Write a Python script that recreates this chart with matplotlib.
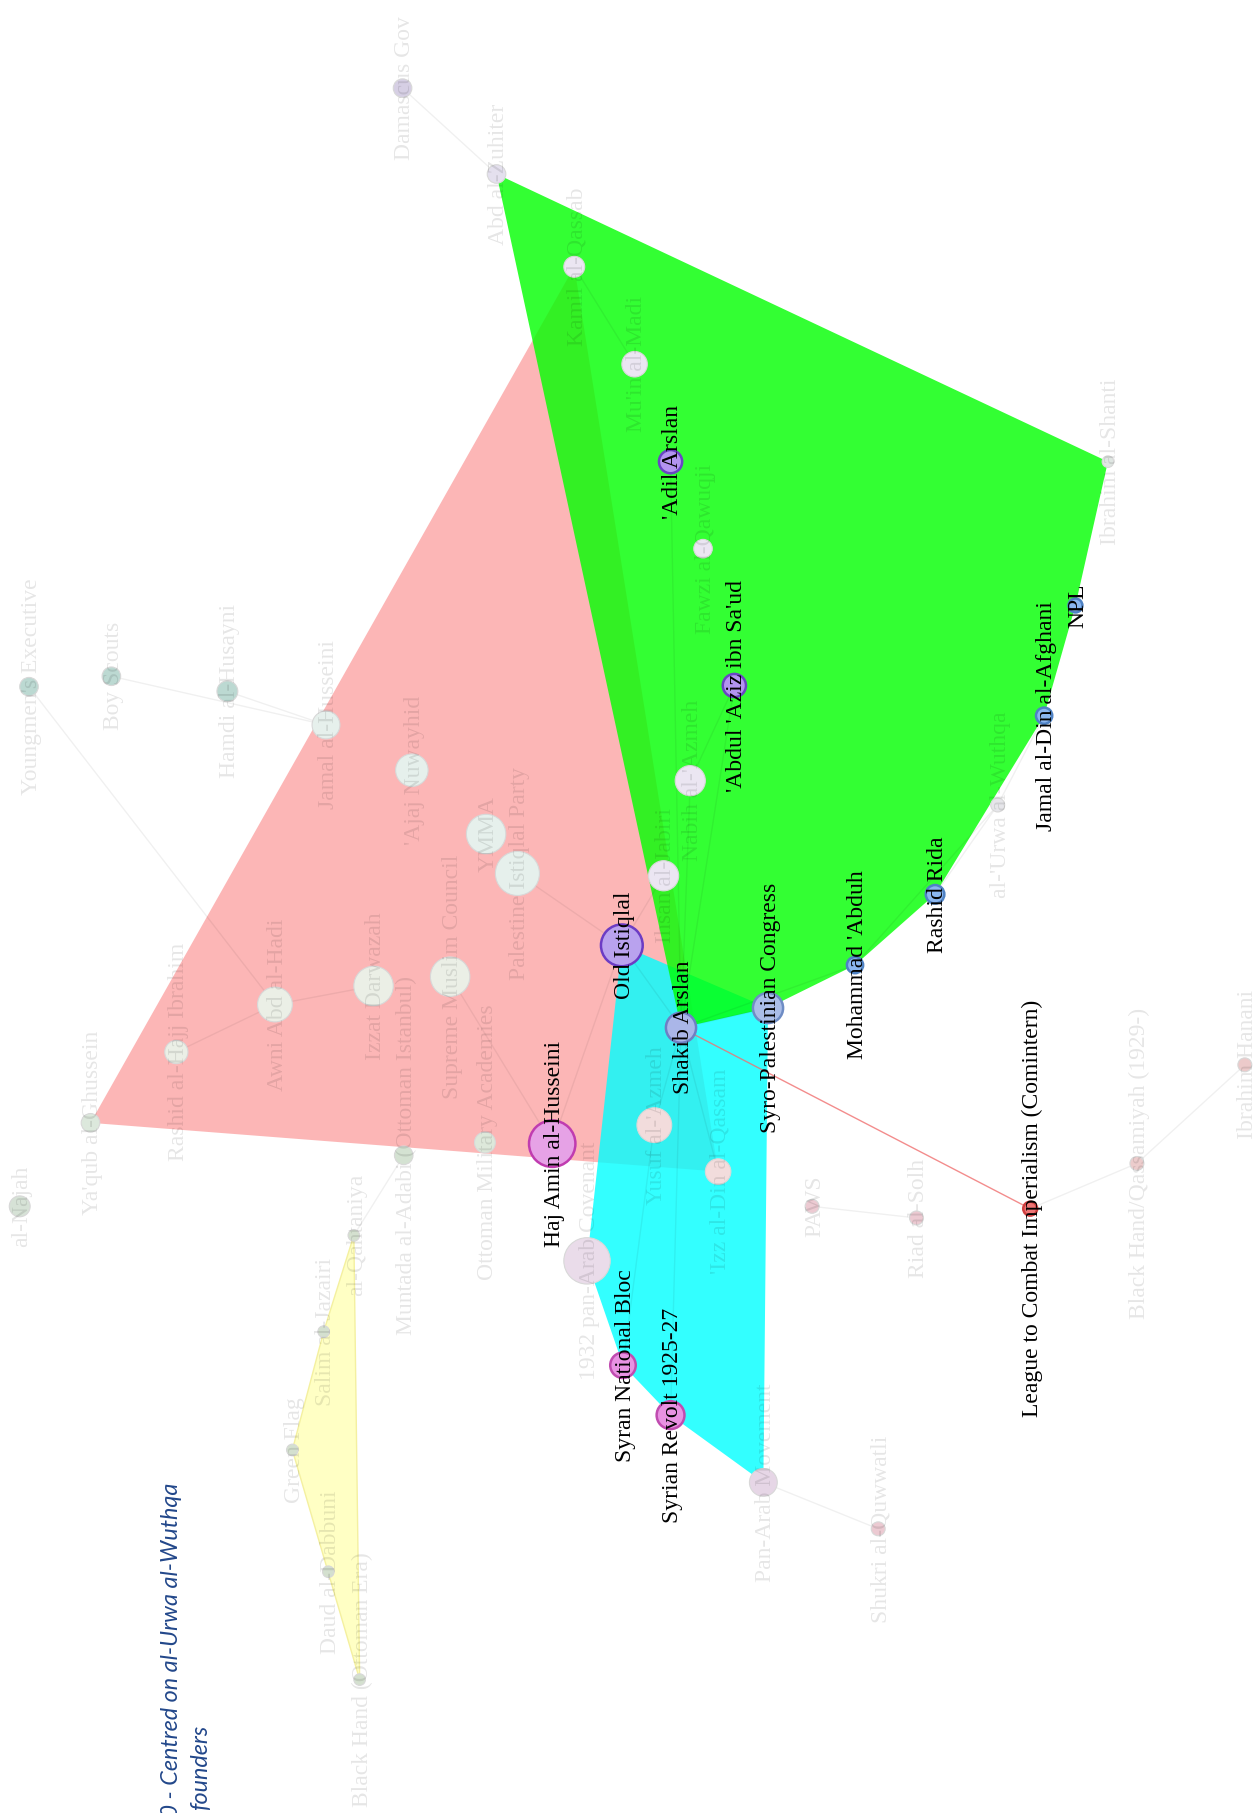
import matplotlib
matplotlib.use("Agg")
import matplotlib.pyplot as plt
from matplotlib.patches import Circle, Polygon

# ---------------- data (positions, in a 1083.5 x 1563 view frame) ----------------
node_names = [
    "Old Istiqlal", "Shakib Arslan", "Syro-Palestinian Congress", "Haj Amin al-Husseini",
    "Syran National Bloc", "Syrian Revolt 1925-27", "League to Combat Imperialism (Comintern)",
    "Mohammad 'Abduh", "Rashid Rida", "Jamal al-Din al-Afghani", "NPL",
    "'Abdul 'Aziz ibn Sa'ud", "'Adil Arslan",
    # faded nodes
    "Damascus Gov", "Abd al-Zuhiter", "Kamil al-Qassab", "Mu'in al-Madi", "Fawzi al-Qawuqji",
    "Nabih al-'Azmeh", "Ihsan al-Jabiri", "al-'Urwa al-Wuthqa", "Ibrahim al-Shanti",
    "Youngmen's Executive", "Boy Scouts", "Hamdi al-Husayni", "Jamal al-Husseini",
    "'Ajaj Nuwayhid", "YMMA", "Palestine Istiqlal Party", "Supreme Muslim Council",
    "Izzat Darwazah", "Awni Abd al-Hadi", "Rashid al-Hajj Ibrahim", "Ya'qub al-Ghussein",
    "Muntada al-Adabi (Ottoman Istanbul)", "Ottoman Military Academies", "al-Qahtaniya",
    "Salim al-Jazairi", "Green Flag", "Daud al-Dabbuni", "Black Hand (Ottoman Era)",
    "al-Najah", "1932 pan-Arab Covenant", "Yusuf al-'Azmeh", "'Izz al-Din al-Qassam",
    "PAWS", "Riad al-Solh", "Black Hand/Qassamiyah (1929-)", "Ibrahim Hanani",
    "Pan-Arab Movement", "Shukri al-Quwwatli",
]
node_x = [536, 587, 662, 476, 537, 578, 888, 737, 806, 900, 927, 633, 578,
          347, 428, 495, 547, 606, 595, 572, 860, 955,
          25, 96, 196, 281, 355, 419, 446, 388, 322, 237, 152, 78,
          348, 418, 305, 279, 252, 283, 310,
          17, 506, 564, 619, 700, 790, 980, 1073, 658, 757]
node_y = [815, 886, 869, 986, 1177, 1220, 1042, 832, 771, 617, 522, 591, 398,
          76, 150, 230, 314, 473, 673, 755, 694, 398,
          592, 583, 596, 625, 664, 719, 753, 842, 850, 866, 907, 968,
          996, 985, 1065, 1148, 1250, 1355, 1448,
          1040, 1087, 970, 1010, 1040, 1050, 1003, 918, 1278, 1318]
node_r = [18, 13, 13, 20, 11, 12, 6, 7, 8, 7, 6, 10, 10,
          8, 8, 9, 11, 8, 13, 13, 6, 5,
          8, 8, 9, 12, 14, 17, 19, 17, 17, 15, 10, 8,
          8, 9, 5, 5, 5, 5, 5,
          9, 20, 15, 11, 6, 6, 6, 6, 12, 6]
node_fill = ["#b9a2ee", "#aab6e8", "#aabde8", "#e6a2e6", "#e892e2", "#e892e2", "#f07676",
             "#8ab6f0", "#8ab6f0", "#8ab6f0", "#8ab6f0", "#b394f0", "#b394f0",
             "#d6cfe4", "#e4e0ee", "#ebe6f2", "#ebe6f2", "#ebe6f2", "#ebe6f2", "#ebe6f2", "#e6e6ea", "#dfe6e2",
             "#bcd9d2", "#bcd9d2", "#bcd9d2", "#e6f0ec", "#e6f0ec", "#e6f0ec", "#e6f0ec", "#ebefe6",
             "#ebefe6", "#ebefe6", "#ebefe6", "#dce8dc",
             "#d4e2d2", "#dde8da", "#d4e0cf", "#d4e0cf", "#d4e0cf", "#d4e0cf", "#d4e0cf",
             "#d6e2d6", "#eadcea", "#f2dcdc", "#f2dcdc", "#eccad2", "#eccad2", "#eccccc", "#eccaca",
             "#e6d6e6", "#eccad2"]
node_edge = ["#6c3cc4", "#6e7fc4", "#6e8cc4", "#c03cb0", "#c04cb0", "#c04cb0", "#d04040",
             "#4f82c4", "#4f82c4", "#4f82c4", "#4f82c4", "#6a44c4", "#6a44c4"] + ["#d8d8d8"] * 38
highlight = [True] * 13 + [False] * 38

edge_pairs = [
    ("Old Istiqlal", "Shakib Arslan"), ("Shakib Arslan", "Syro-Palestinian Congress"),
    ("Shakib Arslan", "'Adil Arslan"), ("Shakib Arslan", "'Abdul 'Aziz ibn Sa'ud"),
    ("Shakib Arslan", "Nabih al-'Azmeh"), ("Shakib Arslan", "'Izz al-Din al-Qassam"),
    ("Shakib Arslan", "Yusuf al-'Azmeh"), ("Shakib Arslan", "Syrian Revolt 1925-27"),
    ("Shakib Arslan", "Mohammad 'Abduh"), ("'Abdul 'Aziz ibn Sa'ud", "Nabih al-'Azmeh"),
    ("Syran National Bloc", "Yusuf al-'Azmeh"), ("Old Istiqlal", "Haj Amin al-Husseini"),
    ("Old Istiqlal", "Palestine Istiqlal Party"), ("Old Istiqlal", "Ihsan al-Jabiri"),
    ("Boy Scouts", "Jamal al-Husseini"), ("Hamdi al-Husayni", "Jamal al-Husseini"),
    ("Youngmen's Executive", "Awni Abd al-Hadi"), ("Awni Abd al-Hadi", "Izzat Darwazah"),
    ("Rashid al-Hajj Ibrahim", "Awni Abd al-Hadi"), ("Supreme Muslim Council", "Haj Amin al-Husseini"),
    ("Pan-Arab Movement", "Shukri al-Quwwatli"), ("PAWS", "Riad al-Solh"),
    ("Black Hand/Qassamiyah (1929-)", "Ibrahim Hanani"),
    ("Black Hand/Qassamiyah (1929-)", "League to Combat Imperialism (Comintern)"),
    ("Damascus Gov", "Abd al-Zuhiter"), ("Kamil al-Qassab", "Mu'in al-Madi"),
    ("al-Qahtaniya", "Muntada al-Adabi (Ottoman Istanbul)"),
    ("Jamal al-Din al-Afghani", "al-'Urwa al-Wuthqa"), ("Mohammad 'Abduh", "al-'Urwa al-Wuthqa"),
    ("Rashid Rida", "al-'Urwa al-Wuthqa"),
]
red_edges = [("Shakib Arslan", "League to Combat Imperialism (Comintern)")]

hull_pink = ["Ya'qub al-Ghussein", "Rashid al-Hajj Ibrahim", "Awni Abd al-Hadi", "Izzat Darwazah",
             "Supreme Muslim Council", "Palestine Istiqlal Party", "YMMA", "'Ajaj Nuwayhid",
             "Jamal al-Husseini", "Kamil al-Qassab", "Old Istiqlal", "Haj Amin al-Husseini",
             "'Izz al-Din al-Qassam", "Ottoman Military Academies"]
hull_green = ["Abd al-Zuhiter", "Kamil al-Qassab", "Mu'in al-Madi", "'Adil Arslan", "Fawzi al-Qawuqji",
              "'Abdul 'Aziz ibn Sa'ud", "Nabih al-'Azmeh", "Ihsan al-Jabiri", "Shakib Arslan",
              "Syro-Palestinian Congress", "Mohammad 'Abduh", "Rashid Rida", "Jamal al-Din al-Afghani",
              "NPL", "Ibrahim al-Shanti"]
hull_cyan = ["Old Istiqlal", "Shakib Arslan", "Syro-Palestinian Congress", "Yusuf al-'Azmeh",
             "'Izz al-Din al-Qassam", "1932 pan-Arab Covenant", "Syran National Bloc",
             "Syrian Revolt 1925-27", "Pan-Arab Movement"]
hull_yellow = ["al-Qahtaniya", "Salim al-Jazairi", "Green Flag", "Daud al-Dabbuni", "Black Hand (Ottoman Era)"]

title_line1 = "1920 - Centred on al-Urwa al-Wuthqa"
title_line2 = "founders"

# ---------------- drawing ----------------
PX_W, PX_H = 1257, 1813
VIEW_W, VIEW_H = 1083.5, 1563.0   # coordinate frame the positions were read in
fig = plt.figure(figsize=(PX_W / 100, PX_H / 100), dpi=100)
ax = fig.add_axes([0, 0, 1, 1])
ax.set_xlim(0, VIEW_W)
ax.set_ylim(VIEW_H, 0)
ax.axis("off")

pos = {n: (x, y) for n, x, y in zip(node_names, node_x, node_y)}


def convex_hull(pts):
    pts = sorted(set(pts))
    if len(pts) < 3:
        return pts

    def cross(o, a, b):
        return (a[0] - o[0]) * (b[1] - o[1]) - (a[1] - o[1]) * (b[0] - o[0])

    lower, upper = [], []
    for p in pts:
        while len(lower) >= 2 and cross(lower[-2], lower[-1], p) <= 0:
            lower.pop()
        lower.append(p)
    for p in reversed(pts):
        while len(upper) >= 2 and cross(upper[-2], upper[-1], p) <= 0:
            upper.pop()
        upper.append(p)
    return lower[:-1] + upper[:-1]


def draw_hull(members, color, alpha, z, ec="none"):
    hull = convex_hull([pos[m] for m in members])
    ax.add_patch(Polygon(hull, closed=True, facecolor=color, alpha=alpha,
                         edgecolor=ec, lw=1, zorder=z))


draw_hull(hull_pink, "#fcb6b6", 1.0, 1)
draw_hull(hull_yellow, "#ffffc4", 1.0, 1, ec="#f4f0a0")
draw_hull(hull_cyan, "#00ffff", 0.8, 2)
draw_hull(hull_green, "#00ff00", 0.8, 3)

for a, b in edge_pairs:
    (x1, y1), (x2, y2) = pos[a], pos[b]
    ax.plot([x1, x2], [y1, y2], color="#000000", alpha=0.06, lw=1, zorder=4)
for a, b in red_edges:
    (x1, y1), (x2, y2) = pos[a], pos[b]
    ax.plot([x1, x2], [y1, y2], color="#f07070", alpha=0.8, lw=1, zorder=4)

for n, x, y, r, fc, ec, hl in zip(node_names, node_x, node_y, node_r, node_fill, node_edge, highlight):
    ax.add_patch(Circle((x, y), r, facecolor=fc, edgecolor=ec,
                        lw=1.8 if hl else 0.8, zorder=6 if hl else 5))

serif = ["Liberation Serif", "DejaVu Serif"]
for n, x, y, hl in zip(node_names, node_x, node_y, highlight):
    ax.text(x + 2, y, n, rotation=90, rotation_mode="anchor", ha="center", va="center",
            fontsize=17, family=serif, color="#000000",
            alpha=1.0 if hl else 0.1, zorder=10 if hl else 7)

ax.text(148, 1278, title_line1, rotation=90, rotation_mode="anchor", ha="right", va="center",
        fontsize=16.8, style="italic", family=["Lato", "DejaVu Sans"], color="#22478a", zorder=10)
ax.text(173, 1487, title_line2, rotation=90, rotation_mode="anchor", ha="right", va="center",
        fontsize=16.8, style="italic", family=["Lato", "DejaVu Sans"], color="#22478a", zorder=10)

fig.savefig("out.png", dpi=100, facecolor="white")
